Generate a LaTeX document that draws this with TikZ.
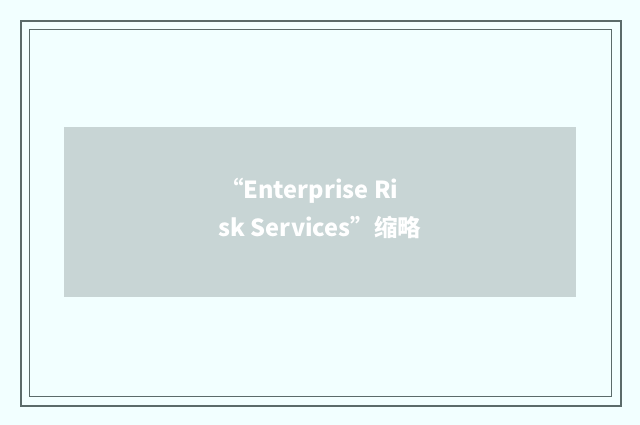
\documentclass[tikz,border=0pt]{standalone}
\usepackage{fontspec}
\newfontfamily\cjk{Noto Sans CJK SC}
\definecolor{bgc}{HTML}{F2FFFF}
\definecolor{boxc}{HTML}{C8D5D5}
\definecolor{framec}{HTML}{5B6B6A}
\tikzset{
  frameline/.style={draw=framec},
  title/.style={anchor=base west, inner sep=0pt, text=white, font=\cjk\bfseries\fontsize{23.5pt}{28pt}\selectfont}
}
\begin{document}
\begin{tikzpicture}[x=1pt,y=-1pt]
\fill[bgc] (0,0) rectangle (640,425);
\useasboundingbox (0,0) rectangle (640,425);
\draw[frameline, line width=2pt] (21,21) rectangle (620.5,406);
\draw[frameline, line width=1pt] (29.5,29.5) rectangle (611,396.5);
\fill[boxc] (64,127) rectangle (576,297);
\node[title] (l1) at (220,198) {“Enterprise Ri};
\node[title] (l2) at (218.5,236) {sk Services”缩略};
\end{tikzpicture}
\end{document}
